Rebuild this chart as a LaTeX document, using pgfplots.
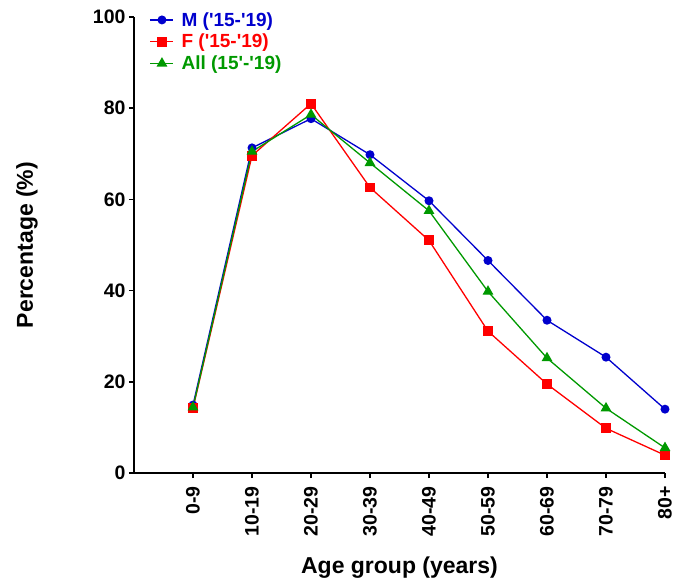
\documentclass[border=0pt]{standalone}
\usepackage{pgfplots}
\pgfplotsset{compat=1.18}
\usepackage{fontspec}
\setmainfont{Liberation Sans}
\definecolor{mblue}{RGB}{0,0,205}
\definecolor{fred}{RGB}{255,0,0}
\definecolor{agreen}{RGB}{0,153,0}
\newcommand{\q}{\textquotesingle}
\begin{document}
\begin{tikzpicture}
\useasboundingbox (-134pt,-108pt) rectangle (551pt,473pt);
\begin{axis}[
  scale only axis,
  width=531pt, height=456pt,
  xmin=-1, xmax=8, ymin=0, ymax=100,
  axis x line*=bottom, axis y line*=left,
  axis line style={line width=1.5pt, black, -},
  every tick/.style={line width=1.5pt, black},
  major tick length=5pt,
  tick align=outside,
  xtick={0,...,8},
  xticklabels={0-9,10-19,20-29,30-39,40-49,50-59,60-69,70-79,80+},
  ytick={0,20,40,60,80,100},
  /pgf/number format/assume math mode=true,
  tick label style={font=\bfseries\fontsize{19.5}{20}\selectfont},
  x tick label style={rotate=90, anchor=east, outer sep=5pt},
  xlabel={Age group (years)},
  ylabel={Percentage (\%)},
  label style={font=\bfseries\fontsize{23}{24}\selectfont},
  xlabel style={at={(axis description cs:0.5,-0.2193)}, anchor=base},
  ylabel style={at={(axis description cs:-0.2015,0.5)}, anchor=center, rotate=0},
  legend style={draw=none, fill=none, at={(axis description cs:0.0294,1.014)}, anchor=north west,
    font=\bfseries\fontsize{19}{20}\selectfont, row sep=3.5pt, inner sep=0pt,
    nodes={inner sep=1.5pt}},
  legend cell align=left,
  legend image code/.code={\draw[mark repeat=2,mark phase=2] plot coordinates {(0pt,0pt)(11.5pt,0pt)(23pt,0pt)}; \path (29pt,0pt);},
  clip=false,
]
\addplot[mblue, line width=1.3pt, mark=*, mark size=3.8pt, mark options={solid, fill=mblue}]
  coordinates {(0,14.9) (1,71.3) (2,77.7) (3,69.8) (4,59.7) (5,46.6) (6,33.5) (7,25.4) (8,14.0)};
\addlegendentry{\textcolor{mblue}{M (\q15-\q19)}}
\addplot[fred, line width=1.3pt, mark=square*, mark size=4.3pt, mark options={solid, fill=fred}]
  coordinates {(0,14.2) (1,69.6) (2,81.0) (3,62.6) (4,51.0) (5,31.1) (6,19.5) (7,9.8) (8,3.9)};
\addlegendentry{\textcolor{fred}{F (\q15-\q19)}}
\addplot[agreen, line width=1.3pt, mark=triangle*, mark size=5pt, mark options={solid, fill=agreen}]
  coordinates {(0,14.4) (1,70.5) (2,78.6) (3,68.0) (4,57.5) (5,39.8) (6,25.2) (7,14.2) (8,5.5)};
\addlegendentry{\textcolor{agreen}{All (15\q-\q19)}}
\end{axis}
\end{tikzpicture}
\end{document}
